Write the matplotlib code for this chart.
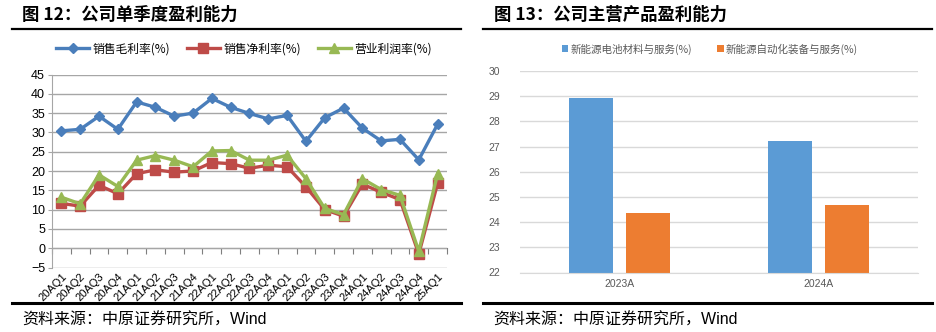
import matplotlib
matplotlib.use("Agg")
import matplotlib.pyplot as plt
from matplotlib.lines import Line2D
import numpy as np

plt.rcParams['font.family'] = ['Liberation Sans', 'Noto Sans CJK SC', 'DejaVu Sans']

# Left chart data: quarterly margins (%)
quarters = ["20AQ1", "20AQ2", "20AQ3", "20AQ4", "21AQ1", "21AQ2", "21AQ3", "21AQ4",
            "22AQ1", "22AQ2", "22AQ3", "22AQ4", "23AQ1", "23AQ2", "23AQ3", "23AQ4",
            "24AQ1", "24AQ2", "24AQ3", "24AQ4", "25AQ1"]
gross_margin = [30.4, 30.8, 34.2, 30.8, 37.9, 36.5, 34.2, 35.0, 38.8, 36.5, 34.9,
                33.5, 34.4, 27.7, 33.8, 36.3, 31.1, 27.8, 28.2, 22.9, 32.1]
net_margin = [11.6, 10.9, 16.3, 14.1, 19.3, 20.3, 19.7, 20.0, 22.2, 21.9, 20.7,
              21.5, 21.1, 15.9, 10.0, 8.3, 16.6, 14.5, 12.6, -1.5, 16.8]
op_margin = [13.2, 11.5, 19.0, 16.0, 22.8, 24.0, 22.8, 21.1, 25.2, 25.3, 22.8,
             22.8, 24.1, 18.0, 10.3, 8.7, 18.0, 15.2, 13.7, -0.8, 19.3]
line_names = ["销售毛利率(%)", "销售净利率(%)", "营业利润率(%)"]

# Right chart data: segment gross margin (%)
years = ["2023A", "2024A"]
battery_mat = [28.93, 27.22]
automation = [24.35, 24.67]
bar_names = ["新能源电池材料与服务(%)", "新能源自动化装备与服务(%)"]

W, H = 937, 332
fig = plt.figure(figsize=(W / 100, H / 100), dpi=100)


def fx(px):
    return px / W


def fy(py):
    return 1 - py / H


def rect(l, t, r, b):
    return [fx(l), fy(b), fx(r) - fx(l), fy(t) - fy(b)]


cjk = ['Noto Sans CJK SC', 'DejaVu Sans']
src_font = ['Liberation Sans', 'Noto Sans CJK SC']

# titles, rules and sources
fig.text(fx(22), fy(15), "图 12：公司单季度盈利能力", family=cjk, fontsize=12.5,
         fontweight='bold', va='center', ha='left')
fig.text(fx(494), fy(15), "图 13：公司主营产品盈利能力", family=cjk, fontsize=12.5,
         fontweight='bold', va='center', ha='left')
for x0, x1 in [(12, 461), (483, 932)]:
    fig.add_artist(Line2D([fx(x0), fx(x1)], [fy(29), fy(29)], color='black', lw=1.6))
    fig.add_artist(Line2D([fx(x0), fx(x1)], [fy(302.5), fy(302.5)], color='black', lw=2.2))
fig.text(fx(22), fy(320), "资料来源：中原证券研究所，Wind", family=src_font,
         fontsize=11.5, va='center', ha='left')
fig.text(fx(493), fy(320), "资料来源：中原证券研究所，Wind", family=src_font,
         fontsize=11.5, va='center', ha='left')

# ---- left: line chart ----
ax1 = fig.add_axes(rect(52, 74.5, 447, 267.5))
x = np.arange(len(quarters))
ax1.plot(x, gross_margin, color='#4A7EBB', lw=2.4, marker='D', ms=5.5, label=line_names[0])
ax1.plot(x, net_margin, color='#BE4B48', lw=2.4, marker='s', ms=6.5, label=line_names[1])
ax1.plot(x, op_margin, color='#98B954', lw=2.4, marker='^', ms=7.5, label=line_names[2])
ax1.set_xlim(-0.5, len(quarters) - 0.5)
ax1.set_ylim(-5, 45)
ax1.set_yticks(np.arange(-5, 46, 5))
ax1.yaxis.grid(True, color='#A6A6A6', lw=1)
ax1.set_axisbelow(True)
for s in ['top', 'right', 'bottom']:
    ax1.spines[s].set_visible(False)
ax1.spines['left'].set_color('#A6A6A6')
ax1.tick_params(axis='y', length=3, color='#A6A6A6', labelsize=9, pad=2)
ax1.set_xticks(x)
ax1.set_xticklabels(quarters, rotation=45, ha='right', rotation_mode='anchor', fontsize=8)
ax1.tick_params(axis='x', length=0, pad=3)
# category axis crossing at zero with boundary tick marks
sec = ax1.secondary_xaxis(0.1)
sec.set_xticks(np.arange(-0.5, len(quarters), 1))
sec.tick_params(axis='x', direction='out', length=4, color='#7F7F7F', labelbottom=False)
sec.spines['bottom'].set_color('#7F7F7F')
fig.legend(handles=ax1.get_lines(), loc='center', bbox_to_anchor=(fx(244), fy(49)),
           ncol=3, frameon=False, prop={'family': cjk, 'size': 8.5},
           handlelength=2.8, columnspacing=1.4, handletextpad=0.3)

# ---- right: bar chart ----
ax2 = fig.add_axes(rect(520, 71, 918, 272.5))
xb = np.arange(len(years))
bw = 0.22
ax2.bar(xb - 0.143, battery_mat, bw, color='#5B9BD5', label=bar_names[0], zorder=2)
ax2.bar(xb + 0.143, automation, bw, color='#ED7D31', label=bar_names[1], zorder=2)
ax2.set_xlim(-0.5, len(years) - 0.5)
ax2.set_ylim(22, 30)
ax2.set_yticks(np.arange(22, 31, 1))
ax2.yaxis.grid(True, color='#D9D9D9', lw=1)
ax2.set_axisbelow(True)
for s in ['top', 'right', 'left']:
    ax2.spines[s].set_visible(False)
ax2.spines['bottom'].set_color('#D9D9D9')
ax2.set_xticks(xb)
ax2.set_xticklabels(years)
ax2.tick_params(axis='both', length=0, labelsize=7.5, labelcolor='#595959')
ax2.tick_params(axis='y', pad=14)
ax2.tick_params(axis='x', pad=5)
fig.legend(handles=ax2.containers, loc='center', bbox_to_anchor=(fx(710), fy(49)),
           ncol=2, frameon=False, prop={'family': cjk, 'size': 7.6},
           labelcolor='#595959', handlelength=0.6, handleheight=0.6,
           handletextpad=0.2, columnspacing=2.4)

fig.savefig("out.png", dpi=100)
